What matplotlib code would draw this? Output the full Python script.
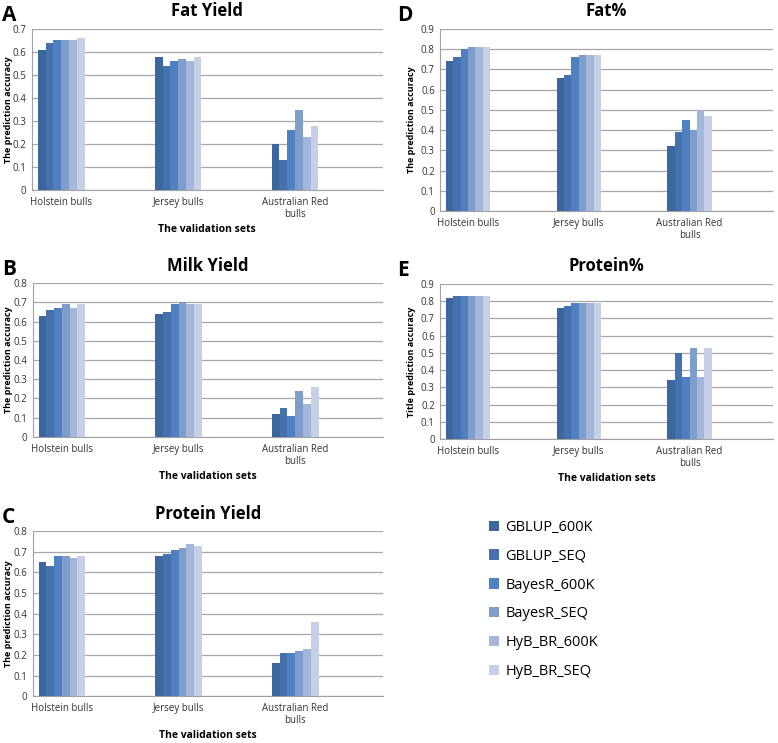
import numpy as np
import matplotlib
matplotlib.use('Agg')
import matplotlib.pyplot as plt
from matplotlib.patches import Patch

plt.rcParams['font.family'] = ['Open Sans', 'DejaVu Sans']

methods = ['GBLUP_600K', 'GBLUP_SEQ', 'BayesR_600K', 'BayesR_SEQ', 'HyB_BR_600K', 'HyB_BR_SEQ']
colors = ['#3b669e', '#4571ae', '#4e80c2', '#7f9ccb', '#a3b7db', '#c5d0e6']
sets = ['Holstein bulls', 'Jersey bulls', 'Australian Red\nbulls']

# rows = methods, cols = validation sets
fat_yield = [[0.61, 0.58, 0.20],
             [0.64, 0.54, 0.13],
             [0.65, 0.56, 0.26],
             [0.65, 0.57, 0.35],
             [0.65, 0.56, 0.23],
             [0.66, 0.58, 0.28]]
fat_pct = [[0.74, 0.66, 0.32],
           [0.76, 0.67, 0.39],
           [0.80, 0.76, 0.45],
           [0.81, 0.77, 0.40],
           [0.81, 0.77, 0.50],
           [0.81, 0.77, 0.47]]
milk_yield = [[0.63, 0.64, 0.12],
              [0.66, 0.65, 0.15],
              [0.67, 0.69, 0.11],
              [0.69, 0.70, 0.24],
              [0.67, 0.69, 0.17],
              [0.69, 0.69, 0.26]]
protein_pct = [[0.82, 0.76, 0.34],
               [0.83, 0.77, 0.50],
               [0.83, 0.79, 0.36],
               [0.83, 0.79, 0.53],
               [0.83, 0.79, 0.36],
               [0.83, 0.79, 0.53]]
protein_yield = [[0.65, 0.68, 0.16],
                 [0.63, 0.69, 0.21],
                 [0.68, 0.71, 0.21],
                 [0.68, 0.72, 0.22],
                 [0.67, 0.74, 0.23],
                 [0.68, 0.73, 0.36]]

fig = plt.figure(figsize=(7.78, 7.43), dpi=100)

panels = [
    ('A', 'Fat Yield', fat_yield, 0.7, 'The prediction accuracy', True, [0.041, 0.744, 0.451, 0.217]),
    ('D', 'Fat%', fat_pct, 0.9, 'The prediction accuracy', False, [0.566, 0.716, 0.427, 0.245]),
    ('B', 'Milk Yield', milk_yield, 0.8, 'The prediction accuracy', True, [0.042, 0.412, 0.450, 0.207]),
    ('E', 'Protein%', protein_pct, 0.9, 'Title prediction accuracy', True, [0.566, 0.409, 0.427, 0.209]),
    ('C', 'Protein Yield', protein_yield, 0.8, 'The prediction accuracy', True, [0.042, 0.063, 0.450, 0.222]),
]

x = np.arange(len(sets)) * 2
w = 0.8 / len(methods)

for letter, title, vals, ymax, ylab, show_xlab, pos in panels:
    ax = fig.add_axes(pos)
    for i, m in enumerate(methods):
        ax.bar(x - 0.4 + w * (i + 0.5), vals[i], width=w, color=colors[i], zorder=3)
    ax.set_xlim(-0.5, 5.5)
    ax.set_ylim(0, ymax)
    ticks = np.round(np.arange(0, ymax + 0.01, 0.1), 1)
    ax.set_yticks(ticks)
    ax.set_yticklabels(['0'] + ['%.1f' % v for v in ticks[1:]])
    ax.set_xticks(x)
    ax.set_xticklabels(sets, fontsize=7, color='#333333', linespacing=1.1)
    ax.tick_params(axis='y', labelsize=7, length=0, pad=4, colors='#333333')
    ax.tick_params(axis='x', length=0, pad=5)
    ax.grid(axis='y', color='#a6a6a6', lw=0.9, zorder=0)
    for s in ['top', 'right']:
        ax.spines[s].set_visible(False)
    ax.spines['left'].set_color('#a0a0a0')
    ax.spines['bottom'].set_color('#a0a0a0')
    left_col = pos[0] < 0.5
    ax.set_ylabel(ylab, fontsize=6.5, fontweight='bold')
    ax.yaxis.set_label_coords(13 / 778 if left_col else 416 / 778, pos[1] + pos[3] / 2,
                              transform=fig.transFigure)
    if show_xlab:
        ax.set_xlabel('The validation sets', fontsize=7.5, fontweight='bold', labelpad=3)
    ax.set_title(title, fontsize=12, fontweight='bold', pad=9)
    fig.text(2 / 778 if left_col else 397 / 778, pos[1] + pos[3] + 0.018, letter,
             fontsize=15, fontweight='bold', ha='left', va='center')

handles = [Patch(facecolor=c, edgecolor='none') for c in colors]
fig.legend(handles, methods, loc='upper left', bbox_to_anchor=(0.612, 0.318),
           frameon=False, fontsize=10.5, handlelength=0.7, handleheight=0.7,
           labelspacing=0.95, handletextpad=0.4)

fig.savefig('out.png', dpi=100)
